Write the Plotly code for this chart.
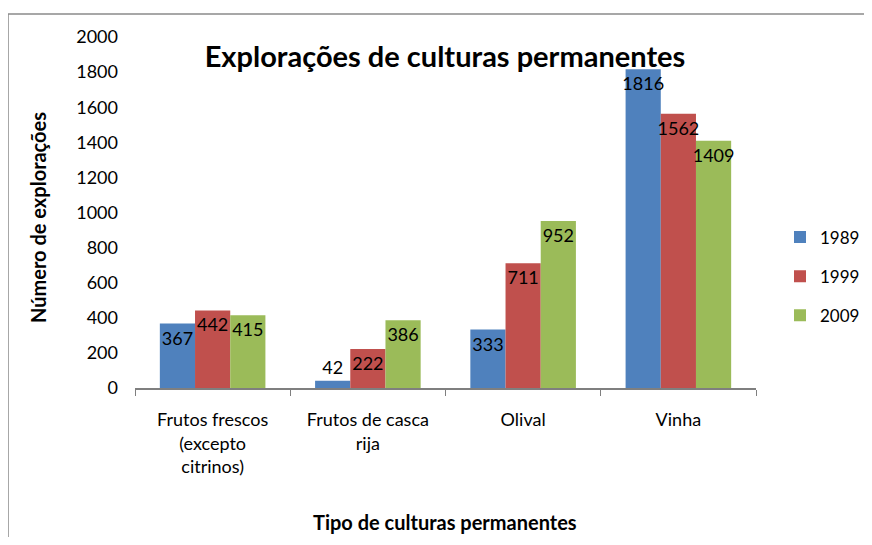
import plotly.graph_objects as go

categories = ["Frutos frescos<br>(excepto<br>citrinos)", "Frutos de casca<br>rija", "Olival", "Vinha"]
years = ["1989", "1999", "2009"]
v1989 = [367, 42, 333, 1816]
v1999 = [442, 222, 711, 1562]
v2009 = [415, 386, 952, 1409]
colors = ["#4F81BD", "#C0504D", "#9BBB59"]

FONT = "Lato, Open Sans, sans-serif"

# the page body has an 8px margin, so keep the figure inside the window
W, H = 856, 529
L, T, B, R = 127, 29, 149, 108
PW, PH = W - L - R, H - T - B


def px_x(x):
    return (x - 8 - L) / PW


def px_y(y):
    return (H - B - (y - 8)) / PH


fig = go.Figure()
for name, vals, col in zip(years, [v1989, v1999, v2009], colors):
    # small bars get their label above, like the Excel original
    pos = ["outside" if v < 100 else "inside" for v in vals]
    fig.add_trace(go.Bar(
        x=categories, y=vals, name=name, legendgroup=name,
        marker=dict(color=col, line=dict(width=0)),
        text=[str(v) for v in vals], textposition=pos, textangle=0,
        insidetextanchor="end", constraintext="none",
        textfont=dict(color="black", size=18, family=FONT),
        cliponaxis=False,
    ))

fig.update_layout(
    width=W, height=H,
    margin=dict(l=L, r=R, t=T, b=B, autoexpand=False),
    plot_bgcolor="white", paper_bgcolor="white",
    barmode="group", bargap=0.32, bargroupgap=0,
    font=dict(family=FONT, size=18, color="black"),
    title=dict(text="<b>Explorações de culturas permanentes</b>",
               x=437 / W, xanchor="center", y=1 - 49 / H, yanchor="middle",
               font=dict(size=29, color="black")),
    legend=dict(x=px_x(780), y=0.48, xanchor="left", yanchor="top",
                tracegroupgap=14, font=dict(size=17)),
    showlegend=True,
)
fig.update_xaxes(showline=True, linecolor="#7f7f7f", linewidth=1.5,
                 ticks="outside", tickson="boundaries", ticklen=6, tickcolor="#7f7f7f",
                 ticklabelstandoff=15, tickfont=dict(size=18))
fig.update_yaxes(range=[0, 2000], dtick=200, showgrid=False, zeroline=False,
                 showline=False, ticks="", ticklabelstandoff=16, tickfont=dict(size=18))

fig.add_annotation(text="<b>Número de explorações</b>", textangle=-90,
                   xref="paper", yref="paper", x=px_x(38), y=px_y(218),
                   xanchor="center", yanchor="middle",
                   showarrow=False, font=dict(size=20))
fig.add_annotation(text="<b>Tipo de culturas permanentes</b>",
                   xref="paper", yref="paper", x=px_x(445), y=px_y(522),
                   xanchor="center", yanchor="middle",
                   showarrow=False, font=dict(size=20))

# chart frame border (top and left edges visible in the original)
fig.add_shape(type="line", xref="paper", yref="paper",
              x0=px_x(8), x1=1.3, y0=px_y(14), y1=px_y(14),
              line=dict(color="#8a8a8a", width=1.5))
fig.add_shape(type="line", xref="paper", yref="paper",
              x0=px_x(8), x1=px_x(8), y0=px_y(14), y1=-0.6,
              line=dict(color="#8a8a8a", width=1.5))

fig.write_html("out.html")
